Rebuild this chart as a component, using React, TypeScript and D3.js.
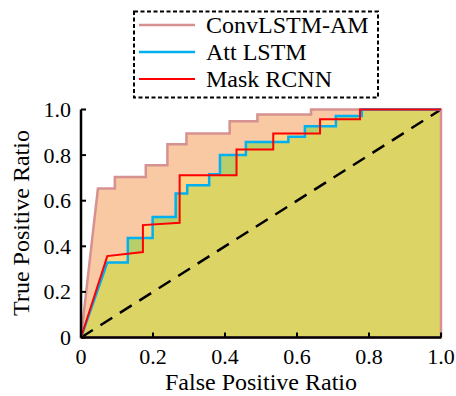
import React from "react";
import * as d3 from "d3";

// ROC curves
const convFpr = [0, 0.047, 0.094, 0.094, 0.18, 0.18, 0.24, 0.24, 0.293, 0.293, 0.413, 0.413, 0.49, 0.49, 0.639, 0.639, 1];
const convTpr = [0, 0.653, 0.653, 0.704, 0.704, 0.755, 0.755, 0.848, 0.848, 0.895, 0.895, 0.949, 0.949, 0.978, 0.978, 1, 1];

const attFpr = [0, 0.073, 0.13, 0.13, 0.199, 0.199, 0.263, 0.263, 0.295, 0.295, 0.356, 0.356, 0.386, 0.386, 0.458, 0.458, 0.576, 0.576, 0.622, 0.622, 0.708, 0.708, 0.78, 0.78, 1];
const attTpr = [0, 0.329, 0.329, 0.436, 0.436, 0.529, 0.529, 0.632, 0.632, 0.668, 0.668, 0.716, 0.716, 0.8, 0.8, 0.858, 0.858, 0.88, 0.88, 0.927, 0.927, 0.972, 0.972, 1, 1];

const maskFpr = [0, 0.073, 0.172, 0.172, 0.274, 0.274, 0.432, 0.432, 0.534, 0.534, 0.664, 0.664, 0.775, 0.775, 1];
const maskTpr = [0, 0.357, 0.375, 0.493, 0.503, 0.712, 0.712, 0.825, 0.825, 0.895, 0.895, 0.957, 0.957, 1, 1];

const seriesNames = ["ConvLSTM-AM", "Att LSTM", "Mask RCNN"];
const ticks = [0, 0.2, 0.4, 0.6, 0.8, 1.0];

const lineColors = ["#d69191", "#00b0f0", "#ff0000"];
const fillConv = "#f9c9a4";
const fillAtt = "#b6cf6b";
const fillMask = "#fcd587";
const fillBoth = "#ddd466";

const font = "'Liberation Serif'";

type Pt = [number, number];

const App = () => {
    const x = d3.scaleLinear().domain([0, 1]).range([81, 441]);
    const y = d3.scaleLinear().domain([0, 1]).range([337.5, 109.5]);

    const toPts = (fx: number[], ty: number[]): Pt[] => fx.map((v, i) => [v, ty[i]]);
    const conv = toPts(convFpr, convTpr);
    const att = toPts(attFpr, attTpr);
    const mask = toPts(maskFpr, maskTpr);

    const area = d3.area<Pt>().x((d) => x(d[0])).y0(y(0)).y1((d) => y(d[1]));
    const line = d3.line<Pt>().x((d) => x(d[0])).y((d) => y(d[1]));

    const fmt = (d: number) => (d === 0 ? "0" : d3.format(".1f")(d));
    const textStyle = (size: number) => ({ fontFamily: font, fontSize: `${size}px` });

    return (
        <svg width={456} height={396} style={{ position: "absolute", left: 0, top: 0 }}>
            <defs>
                <clipPath id="attClip">
                    <path d={area(att) + "Z"} />
                </clipPath>
            </defs>

            {/* filled areas */}
            <path d={area(conv) ?? ""} fill={fillConv} />
            <path d={area(att) ?? ""} fill={fillAtt} />
            <path d={area(mask) ?? ""} fill={fillMask} />
            <path d={area(mask) ?? ""} fill={fillBoth} clipPath="url(#attClip)" />

            {/* chance line */}
            <line x1={x(0)} y1={y(0)} x2={x(1)} y2={y(1)}
                stroke="#000" strokeWidth={2.5} strokeDasharray="14,9" />

            {/* outlines */}
            <path d={area(conv) + "Z"} fill="none" stroke={lineColors[0]} strokeWidth={2.5} />
            <path d={line(att) ?? ""} fill="none" stroke={lineColors[1]} strokeWidth={2.5} />
            <path d={line(mask) ?? ""} fill="none" stroke={lineColors[2]} strokeWidth={2} />

            {/* axes */}
            <line x1={x(0)} x2={x(1)} y1={y(0)} y2={y(0)} stroke="#000" strokeWidth={2.5} />
            <line x1={x(0)} x2={x(0)} y1={y(0)} y2={y(1)} stroke="#000" strokeWidth={2.5} />
            {ticks.map((t) => (
                <g key={"x" + t}>
                    <line x1={x(t)} x2={x(t)} y1={y(0)} y2={y(0) - 5} stroke="#000" strokeWidth={2} />
                    <text x={x(t)} y={y(0) + 26} textAnchor="middle" style={textStyle(22)}>{fmt(t)}</text>
                </g>
            ))}
            {ticks.map((t) => (
                <g key={"y" + t}>
                    <line x1={x(0)} x2={x(0) + 5} y1={y(t)} y2={y(t)} stroke="#000" strokeWidth={2} />
                    <text x={x(0) - 10} y={y(t) + 7.5} textAnchor="end" style={textStyle(22)}>{fmt(t)}</text>
                </g>
            ))}

            <text x={261} y={390} textAnchor="middle" style={textStyle(24)}>False Positive Ratio</text>
            <text transform="translate(29,223) rotate(-90)" textAnchor="middle" style={textStyle(24)}>
                True Positive Ratio
            </text>

            {/* legend */}
            <rect x={134} y={11.5} width={244} height={86} fill="#fff"
                stroke="#000" strokeWidth={2} strokeDasharray="4,2.5" />
            {seriesNames.map((name, i) => (
                <g key={name} transform={`translate(139,${25 + i * 27})`}>
                    <line x1={0} x2={56} stroke={lineColors[i]} strokeWidth={i === 2 ? 2 : 2.5} />
                    <text x={67} y={8} style={textStyle(24)}>{name}</text>
                </g>
            ))}
        </svg>
    );
};

export default App;
